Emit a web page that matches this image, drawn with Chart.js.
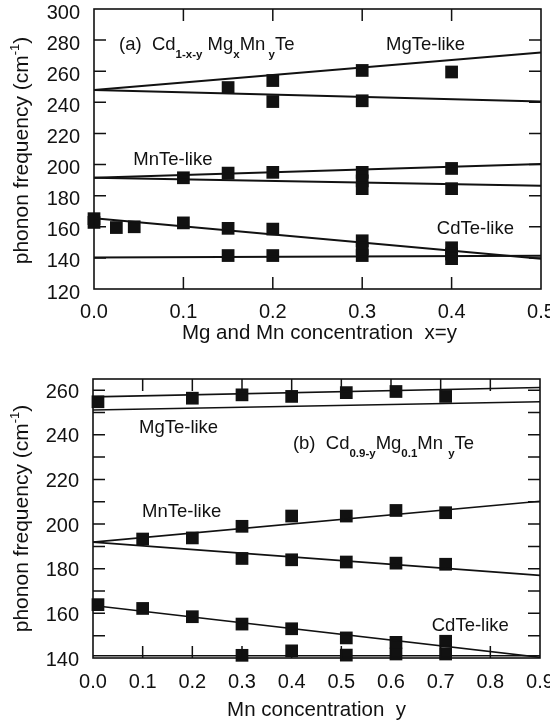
<!DOCTYPE html>
<html><head><meta charset="utf-8">
<script src="https://cdn.jsdelivr.net/npm/chart.js@4.4.0/dist/chart.umd.min.js"></script>
<style>
html,body{margin:0;padding:0;background:#fff;}
#wrap{position:relative;width:550px;height:723px;background:#fff;}
.box{position:absolute;left:0;width:550px;}
</style></head><body>
<div id="wrap">
<div class="box" style="top:0;height:362px"><canvas id="c1"></canvas></div>
<div class="box" style="top:362px;height:361px"><canvas id="c2"></canvas></div>
</div>
<script>
// ---------- Panel (a): Cd1-x-yMgxMnyTe, x = y ----------
const aTickLabelsX = [0.0, 0.1, 0.2, 0.3, 0.4, 0.5];
const aTickLabelsY = [120, 140, 160, 180, 200, 220, 240, 260, 280, 300];
const aMgTeX = [0.15, 0.2, 0.2, 0.3, 0.3, 0.4];
const aMgTeY = [249.5, 254, 240.5, 260.5, 241, 259.5];
const aMnTeX = [0.1, 0.15, 0.2, 0.3, 0.3, 0.3, 0.4, 0.4];
const aMnTeY = [191.5, 194.5, 195, 195, 189.5, 184.5, 197.5, 184.5];
const aCdTeX = [0.0, 0.0, 0.025, 0.045, 0.1, 0.15, 0.2, 0.3, 0.3, 0.3, 0.4, 0.4, 0.4, 0.15, 0.2];
const aCdTeY = [165.2, 162.8, 159.5, 160, 162.5, 159, 158.5, 151, 146, 141.5, 146.5, 142.5, 139.5, 141.5, 141.5];
const aFitX = [0.0, 0.5];
const aMgTeFitUp = [248, 272];
const aMgTeFitLow = [248, 240.5];
const aMnTeFitUp = [191.5, 200.3];
const aMnTeFitLow = [191.5, 186.3];
const aCdTeFitUp = [165.5, 139.5];
const aCdTeFitLow = [140.3, 141.3];

// ---------- Panel (b): Cd0.9-yMg0.1MnyTe ----------
const bTickLabelsX = [0.0, 0.1, 0.2, 0.3, 0.4, 0.5, 0.6, 0.7, 0.8, 0.9];
const bTickLabelsY = [140, 160, 180, 200, 220, 240, 260];
const bMgTeX = [0.01, 0.2, 0.3, 0.4, 0.51, 0.61, 0.71];
const bMgTeY = [254.8, 256.4, 257.9, 257.2, 258.9, 259.4, 257.2];
const bMnTeUpX = [0.1, 0.2, 0.3, 0.4, 0.51, 0.61, 0.71];
const bMnTeUpY = [193.3, 193.8, 199, 203.6, 203.6, 206.1, 205.1];
const bMnTeLowX = [0.3, 0.4, 0.51, 0.61, 0.71];
const bMnTeLowY = [184.6, 184, 183, 182.5, 182];
const bCdTeUpX = [0.01, 0.1, 0.2, 0.3, 0.4, 0.51, 0.61, 0.71];
const bCdTeUpY = [163.9, 162.2, 158.5, 155.2, 153.1, 149, 147, 147.5];
const bCdTeLowX = [0.3, 0.4, 0.51, 0.61, 0.71];
const bCdTeLowY = [141.2, 143.2, 141.3, 141.8, 141.8];
const bFitX = [0.0, 0.9];
const bMgTeFitUp = [257, 261.2];
const bMgTeFitLow = [251.1, 254.8];
const bMnTeFitUp = [191.9, 210.2];
const bMnTeFitLow = [191.9, 177];
const bCdTeFitUp = [163.5, 140.3];
const bCdTeFitLow = [141, 141];

const FONT = "'Liberation Sans', Arial, Helvetica, sans-serif";

function pts(xs, ys){ return xs.map((x,i)=>({x:x, y:ys[i]})); }
function pointSet(xs, ys){
  return {data: pts(xs, ys), showLine:false, pointStyle:'rect', pointRadius:9, pointHoverRadius:9,
          backgroundColor:'#111', borderWidth:0, clip:false};
}
function lineSet(xs, ys, w){
  return {data: pts(xs, ys), showLine:true, pointRadius:0, borderColor:'#111', borderWidth:w,
          fill:false, tension:0};
}

const decor = {
  id:'decor',
  afterDraw(chart, args, o){
    const {ctx, chartArea:a, scales:{x, y}} = chart;
    ctx.save();
    ctx.strokeStyle = '#111';
    ctx.lineWidth = o.frameWidth;
    ctx.strokeRect(a.left, a.top, a.right - a.left, a.bottom - a.top);
    ctx.lineWidth = o.tickWidth;
    ctx.beginPath();
    for (const v of o.xTicks){
      const p = x.getPixelForValue(v);
      ctx.moveTo(p, a.bottom); ctx.lineTo(p, a.bottom - o.tickLen);
      ctx.moveTo(p, a.top); ctx.lineTo(p, a.top + o.tickLen);
    }
    for (const v of o.yTicks){
      const p = y.getPixelForValue(v);
      ctx.moveTo(a.left, p); ctx.lineTo(a.left + o.tickLen, p);
      ctx.moveTo(a.right, p); ctx.lineTo(a.right - o.tickLen, p);
    }
    ctx.stroke();
    ctx.fillStyle = '#111';
    ctx.textBaseline = 'middle';
    ctx.textAlign = 'left';
    for (const t of o.texts){
      let px = x.getPixelForValue(t.x);
      const py = y.getPixelForValue(t.y);
      for (const part of t.parts){
        if (part.sub){
          ctx.font = 'bold 11.5px ' + FONT;
          ctx.fillText(part.s, px, py + 10);
        } else {
          ctx.font = '18.5px ' + FONT;
          ctx.fillText(part.s, px, py);
        }
        px += ctx.measureText(part.s).width;
      }
    }
    // x-axis title
    ctx.font = '20.5px ' + FONT;
    ctx.textAlign = 'center';
    ctx.fillText(o.xTitle, (a.left + a.right)/2 + o.xTitleDx, a.bottom + o.xTitleDy);
    // y-axis title with superscript
    ctx.save();
    ctx.translate(o.yTitleX, (a.top + a.bottom)/2 + o.yTitleDy);
    ctx.rotate(-Math.PI/2);
    const s1 = 'phonon frequency (cm', s2 = '-1', s3 = ')';
    ctx.font = '21px ' + FONT; const w1 = ctx.measureText(s1).width;
    ctx.font = '13px ' + FONT; const w2 = ctx.measureText(s2).width;
    ctx.font = '21px ' + FONT; const w3 = ctx.measureText(s3).width;
    let sx = -(w1 + w2 + w3)/2;
    ctx.textAlign = 'left';
    ctx.font = '21px ' + FONT; ctx.fillText(s1, sx, 0); sx += w1;
    ctx.font = '13px ' + FONT; ctx.fillText(s2, sx, -7); sx += w2;
    ctx.font = '21px ' + FONT; ctx.fillText(s3, sx, 0);
    ctx.restore();
    ctx.restore();
  }
};

function makeOpts(cfg){
  return {
    responsive:true, maintainAspectRatio:false, animation:false,
    layout:{padding:{top:cfg.padTop, right:cfg.padRight, left:0, bottom:0}},
    plugins:{legend:{display:false}, tooltip:{enabled:false}, decor:cfg.decor},
    scales:{
      x:{type:'linear', min:cfg.xMin, max:cfg.xMax,
         grid:{display:false, drawTicks:false}, border:{display:false},
         afterBuildTicks:s=>{ s.ticks = cfg.xLabels.map(v=>({value:v})); },
         ticks:{padding:cfg.xPad, color:'#111', font:{family:FONT, size:20}, maxRotation:0, autoSkip:false,
                callback:v=>Number(v).toFixed(1)},
         afterFit:s=>{ s.height = cfg.xHeight; s.paddingLeft = 0; s.paddingRight = 0; }},
      y:{type:'linear', min:cfg.yMin, max:cfg.yMax,
         grid:{display:false, drawTicks:false}, border:{display:false},
         afterBuildTicks:s=>{ s.ticks = cfg.yLabels.map(v=>({value:v})); },
         ticks:{padding:cfg.yPad, labelOffset:cfg.yLabelOffset, color:'#111', font:{family:FONT, size:20}, autoSkip:false,
                callback:v=>String(v)},
         afterFit:s=>{ s.width = cfg.yWidth; s.paddingTop = 0; s.paddingBottom = 0; }}
    }
  };
}

new Chart(document.getElementById('c1'), {
  type:'scatter',
  data:{datasets:[
    lineSet(aFitX, aMgTeFitUp, 2), lineSet(aFitX, aMgTeFitLow, 2),
    lineSet(aFitX, aMnTeFitUp, 2), lineSet(aFitX, aMnTeFitLow, 2),
    lineSet(aFitX, aCdTeFitUp, 2), lineSet(aFitX, aCdTeFitLow, 2),
    pointSet(aMgTeX, aMgTeY), pointSet(aMnTeX, aMnTeY), pointSet(aCdTeX, aCdTeY)
  ]},
  options: makeOpts({
    padTop:8, padRight:9, xMin:0, xMax:0.5, yMin:120, yMax:300,
    xLabels:aTickLabelsX, yLabels:aTickLabelsY, xPad:11, yPad:14, yLabelOffset:4, xHeight:73, yWidth:94,
    decor:{frameWidth:1.6, tickWidth:1.5, tickLen:12,
      xTicks:[0.1,0.2,0.3,0.4], yTicks:[140,160,180,200,220,240,260,280],
      xTitle:'Mg and Mn concentration  x=y', xTitleDx:2, xTitleDy:44,
      yTitleX:22, yTitleDy:1.5,
      texts:[
        {x:0.028, y:277, parts:[{s:'(a)  Cd'},{s:'1-x-y',sub:true},{s:' Mg'},{s:'x',sub:true},{s:'Mn'},{s:' y',sub:true},{s:'Te'}]},
        {x:0.3266, y:277, parts:[{s:'MgTe-like'}]},
        {x:0.044, y:202.9, parts:[{s:'MnTe-like'}]},
        {x:0.3835, y:158.8, parts:[{s:'CdTe-like'}]}
      ]}
  }),
  plugins:[decor]
});

new Chart(document.getElementById('c2'), {
  type:'scatter',
  data:{datasets:[
    lineSet(bFitX, bMgTeFitUp, 1.6), lineSet(bFitX, bMgTeFitLow, 1.6),
    lineSet(bFitX, bMnTeFitUp, 1.6), lineSet(bFitX, bMnTeFitLow, 1.6),
    lineSet(bFitX, bCdTeFitUp, 1.6), lineSet(bFitX, bCdTeFitLow, 1.6),
    pointSet(bMgTeX, bMgTeY), pointSet(bMnTeUpX, bMnTeUpY), pointSet(bMnTeLowX, bMnTeLowY),
    pointSet(bCdTeUpX, bCdTeUpY), pointSet(bCdTeLowX, bCdTeLowY)
  ]},
  options: makeOpts({
    padTop:17, padRight:10, xMin:0, xMax:0.9, yMin:140, yMax:265,
    xLabels:bTickLabelsX, yLabels:bTickLabelsY, xPad:12, yPad:14, yLabelOffset:2, xHeight:65, yWidth:93,
    decor:{frameWidth:1.6, tickWidth:1.5, tickLen:12,
      xTicks:[0.1,0.2,0.3,0.4,0.5,0.6,0.7,0.8], yTicks:[150,160,170,180,190,200,210,220,230,240,250,260],
      xTitle:'Mn concentration  y', xTitleDx:0, xTitleDy:52,
      yTitleX:22, yTitleDy:0,
      texts:[
        {x:0.0926, y:243, parts:[{s:'MgTe-like'}]},
        {x:0.4025, y:236, parts:[{s:'(b)  Cd'},{s:'0.9-y',sub:true},{s:'Mg'},{s:'0.1',sub:true},{s:'Mn '},{s:'y',sub:true},{s:'Te'}]},
        {x:0.0987, y:205.6, parts:[{s:'MnTe-like'}]},
        {x:0.682, y:154.5, parts:[{s:'CdTe-like'}]}
      ]}
  }),
  plugins:[decor]
});
</script>
</body></html>
